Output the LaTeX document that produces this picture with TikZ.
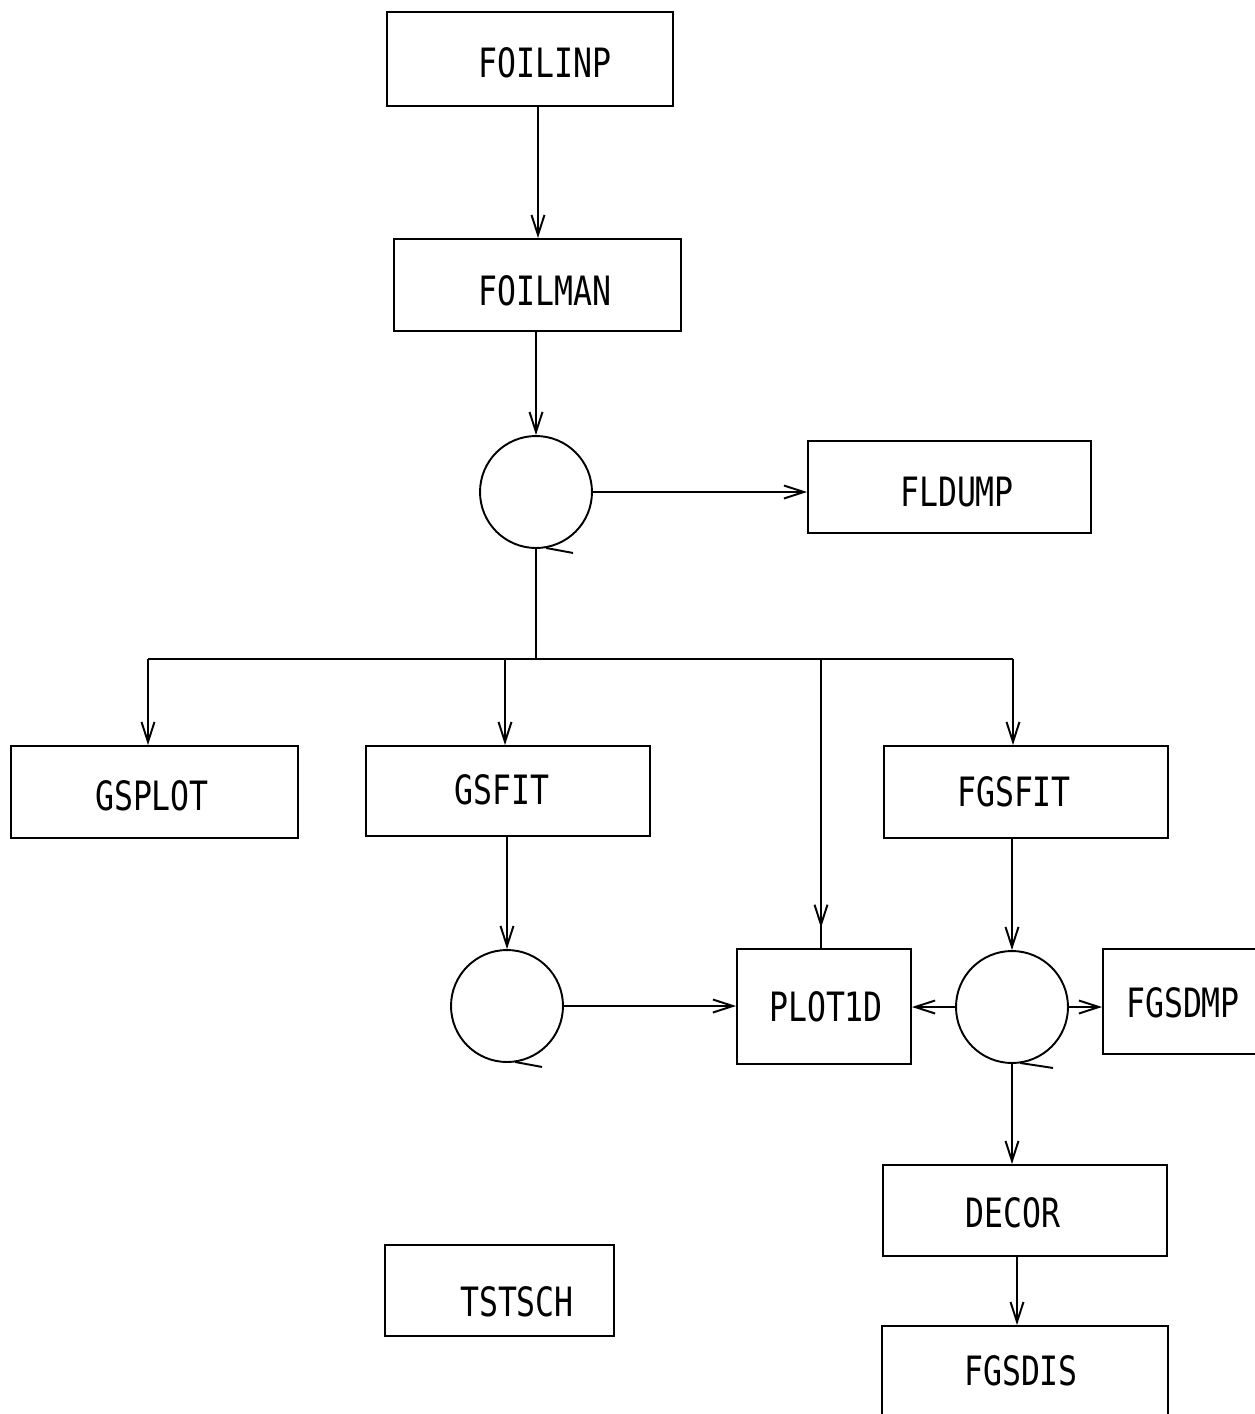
\documentclass[tikz,border=0pt]{standalone}
\usepackage{fontspec}
\newfontfamily\lpfont[FakeStretch=0.78]{DejaVu Sans Mono}
\usetikzlibrary{arrows.meta,fit,calc,decorations.markings}
\begin{document}
\begin{tikzpicture}[x=0.02cm,y=-0.02cm,line width=1.1pt,
  box/.style={draw,rectangle,inner sep=0pt},
  loop/.style={draw,circle,inner sep=0pt,minimum size=2.24cm},
  lbl/.style={font=\lpfont\fontsize{23}{26}\selectfont,inner sep=0pt},
  arr/.style={-{Straight Barb[length=4mm,width=2.6mm,line width=1.1pt]}},
  midarr/.style={postaction={decorate},decoration={markings,
     mark=at position #1 with {\arrow{Straight Barb[length=4mm,width=2.6mm,line width=1.1pt]}}}}]
\useasboundingbox (0,0) rectangle (1255,1414);
% boxes
\node[box,fit={(387,12) (673,106)}] (foilinp) {};
\node[lbl] (foilinpT) at (545,63) {FOILINP};
\node[box,fit={(394,239) (681,331)}] (foilman) {};
\node[lbl] (foilmanT) at (545,291) {FOILMAN};
\node[box,fit={(808,441) (1091,533)}] (fldump) {};
\node[lbl] (fldumpT) at (957,492) {FLDUMP};
\node[box,fit={(11,746) (298,838)}] (gsplot) {};
\node[lbl] (gsplotT) at (152,796) {GSPLOT};
\node[box,fit={(366,746) (650,836)}] (gsfit) {};
\node[lbl] (gsfitT) at (502,790) {GSFIT};
\node[box,fit={(884,746) (1168,838)}] (fgsfit) {};
\node[lbl] (fgsfitT) at (1014,792) {FGSFIT};
\node[box,fit={(737,949) (911,1064)}] (plot1d) {};
\node[lbl] (plot1dT) at (826,1007) {PLOT1D};
\node[box,fit={(1103,949) (1275,1054)}] (fgsdmp) {};
\node[lbl] (fgsdmpT) at (1183,1003) {FGSDMP};
\node[box,fit={(883,1165) (1167,1256)}] (decor) {};
\node[lbl] (decorT) at (1013,1213) {DECOR};
\node[box,fit={(882,1326) (1168,1440)}] (fgsdis) {};
\node[lbl] (fgsdisT) at (1021,1371) {FGSDIS};
\node[box,fit={(385,1245) (614,1336)}] (tstsch) {};
\node[lbl] (tstschT) at (517,1302) {TSTSCH};
% loop circles
\node[loop] (c1) at (536,492) {};
\node[loop] (c2) at (507,1006) {};
\node[loop] (c3) at (1012,1007) {};
% loop tails
\draw ([shift={(10,-1)}]c1.south) -- ++(27,5);
\draw ([shift={(8,-1)}]c2.south) -- ++(27,5);
\draw ([shift={(8,-1)}]c3.south) -- ++(33,5);
% bus coordinates
\coordinate (b1) at (148,659);
\coordinate (b2) at (505,659);
\coordinate (b3) at (821,659);
\coordinate (b4) at (1013,659);
% connectors
\draw[arr] (foilinp.south -| 538,0) -- (foilman.north -| 538,0);
\draw[arr] (foilman.south -| c1) -- (c1.north);
\draw[arr] (c1.east) -- (c1.east -| fldump.west);
\draw (c1.south) -- (c1.south |- b1);
\draw (b1) -- (b4);
\draw[arr] (b1) -- (b1 |- gsplot.north);
\draw[arr] (b2) -- (b2 |- gsfit.north);
\draw[midarr=0.93] (b3) -- (b3 |- plot1d.north);
\draw[arr] (b4) -- (b4 |- fgsfit.north);
\draw[arr] (gsfit.south -| c2) -- (c2.north);
\draw[arr] (c2.east) -- (c2.east -| plot1d.west);
\draw[arr] (fgsfit.south -| c3) -- (c3.north);
\draw[arr] (c3.west) -- (c3.west -| plot1d.east);
\draw[arr] (c3.east) -- (c3.east -| fgsdmp.west);
\draw[arr] (c3.south) -- (c3.south |- decor.north);
\draw[arr] (decor.south -| 1017,0) -- (fgsdis.north -| 1017,0);
\end{tikzpicture}
\end{document}
